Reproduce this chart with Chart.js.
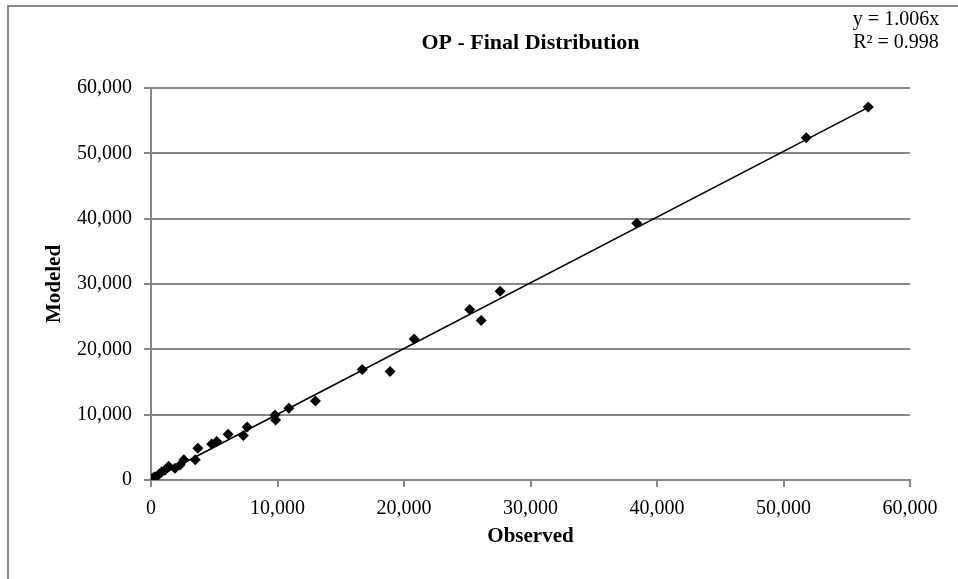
<!DOCTYPE html>
<html>
<head>
<meta charset="utf-8">
<script src="https://cdn.jsdelivr.net/npm/chart.js@4.4.1/dist/chart.umd.min.js"></script>
<style>
  html, body { margin: 0; padding: 0; background: #fff; }
  canvas { display: block; }
</style>
</head>
<body>
<canvas id="opChart" width="958" height="579"></canvas>
<script>
// Observed vs modeled
const observed = [56700, 51800, 38400, 27600, 25200, 26100, 20800, 18900, 16700, 13000,
                  10900, 9800, 9850, 7600, 7300, 6100, 5200, 4800, 3700, 3500,
                  2600, 2300, 1900, 1400, 1100, 850, 600, 300, 150, 50];
const modeled  = [57100, 52400, 39300, 28900, 26100, 24400, 21600, 16600, 16900, 12100,
                  11000, 9950, 9200, 8100, 6800, 7000, 5900, 5500, 4850, 3100,
                  3100, 2300, 1800, 2100, 1500, 1250, 800, 500, 300, 100];

// Trendline y = 1.006x, drawn between its two end points
const trendX = [0, 56700];
const trendY = [0, 57040];

const axisTicks = [0, 10000, 20000, 30000, 40000, 50000, 60000];
const chartTitle = 'OP - Final Distribution';
const eqLines = ['y = 1.006x', 'R\u00b2 = 0.998'];

const serif = '"Liberation Serif", "Times New Roman", serif';
const gridGray = '#878787';

const points = observed.map((x, i) => ({ x: x, y: modeled[i] }));
const trend = trendX.map((x, i) => ({ x: x, y: trendY[i] }));

// Rahmen, Titel und Gleichung
const decor = {
    id: 'decor',
    beforeDraw(chart) {
        const ctx = chart.ctx;
        ctx.save();
        ctx.fillStyle = '#fff';
        ctx.fillRect(0, 0, chart.width, chart.height);
        ctx.strokeStyle = gridGray;
        ctx.lineWidth = 2;
        ctx.beginPath();
        ctx.moveTo(8, chart.height);
        ctx.lineTo(8, 6);
        ctx.lineTo(chart.width, 6);
        ctx.stroke();
        ctx.restore();
    },
    afterDraw(chart) {
        const ctx = chart.ctx;
        const area = chart.chartArea;
        ctx.save();
        ctx.fillStyle = '#000';
        ctx.textAlign = 'center';
        ctx.textBaseline = 'middle';
        ctx.font = 'bold 22px ' + serif;
        ctx.fillText(chartTitle, (area.left + area.right) / 2, 43);
        ctx.font = '20px ' + serif;
        eqLines.forEach((t, i) => ctx.fillText(t, 896, 20 + i * 23));
        ctx.restore();
    }
};

const tickFmt = v => Number(v).toLocaleString('en-US');

new Chart(document.getElementById('opChart'), {
    type: 'scatter',
    data: {
        datasets: [
            {
                label: 'OP',
                data: points,
                pointStyle: 'rectRot',
                pointRadius: 5.5,
                pointHoverRadius: 5.5,
                backgroundColor: '#000',
                borderColor: '#000',
                borderWidth: 0,
                order: 1
            },
            {
                label: 'Linear',
                data: trend,
                showLine: true,
                pointRadius: 0,
                borderColor: '#000',
                borderWidth: 1.6,
                fill: false,
                order: 2
            }
        ]
    },
    options: {
        responsive: false,
        animation: false,
        events: [],
        layout: { padding: { top: 88, right: 48, left: 0, bottom: 0 } },
        plugins: {
            legend: { display: false },
            title: { display: false },
            tooltip: { enabled: false }
        },
        scales: {
            x: {
                type: 'linear',
                min: 0,
                max: 60000,
                afterFit: s => { s.height = 99; },
                afterBuildTicks: s => { s.ticks = axisTicks.map(v => ({ value: v })); },
                ticks: {
                    callback: tickFmt,
                    color: '#000',
                    padding: 10,
                    maxRotation: 0,
                    font: { family: serif, size: 20 }
                },
                grid: {
                    drawOnChartArea: false,
                    drawTicks: true,
                    tickLength: 7,
                    color: gridGray,
                    lineWidth: 2
                },
                border: { display: true, color: gridGray, width: 2 },
                title: {
                    display: true,
                    text: 'Observed',
                    color: '#000',
                    font: { family: serif, size: 21, weight: 'bold' },
                    padding: { top: 0, bottom: 30 }
                }
            },
            y: {
                type: 'linear',
                min: 0,
                max: 60000,
                afterFit: s => { s.width = 151; },
                afterBuildTicks: s => { s.ticks = axisTicks.map(v => ({ value: v })); },
                ticks: {
                    callback: tickFmt,
                    color: '#000',
                    padding: 12,
                    font: { family: serif, size: 20 }
                },
                grid: {
                    drawOnChartArea: true,
                    drawTicks: true,
                    tickLength: 7,
                    color: gridGray,
                    lineWidth: 2
                },
                border: { display: true, color: gridGray, width: 2 },
                title: {
                    display: true,
                    text: 'Modeled',
                    color: '#000',
                    font: { family: serif, size: 21, weight: 'bold' },
                    padding: { top: 42, bottom: 0 }
                }
            }
        }
    },
    plugins: [decor]
});
</script>
</body>
</html>
